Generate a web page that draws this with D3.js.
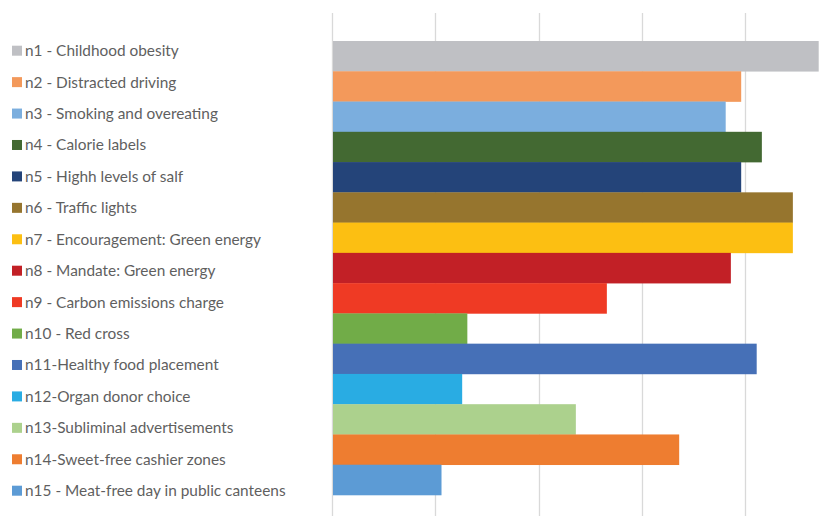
<!DOCTYPE html>
<html>
<head>
<meta charset="utf-8">
<script src="https://cdn.jsdelivr.net/npm/d3@7"></script>
<style>
  html, body { margin: 0; padding: 0; background: #fff; overflow: hidden; }
</style>
</head>
<body>
<svg id="chart" width="840" height="516"></svg>
<script>
// series names (one bar per series)
const names = [
  'n1 - Childhood obesity',
  'n2 - Distracted driving',
  'n3 - Smoking and overeating',
  'n4 - Calorie labels',
  'n5 - Highh levels of salf',
  'n6 - Traffic lights',
  'n7 - Encouragement: Green energy',
  'n8 - Mandate: Green energy',
  'n9 - Carbon emissions charge',
  'n10 - Red cross',
  'n11-Healthy food placement',
  'n12-Organ donor choice',
  'n13-Subliminal advertisements',
  'n14-Sweet-free cashier zones',
  'n15 - Meat-free day in public canteens'
];
const values = [4.70, 3.95, 3.80, 4.15, 3.95, 4.45, 4.45, 3.85, 2.65, 1.30, 4.10, 1.25, 2.35, 3.35, 1.05];
const colors = [
  '#bfc0c4', '#f3995b', '#7baede', '#436932', '#244479',
  '#96752e', '#fcbf12', '#c22026', '#ef3a24', '#71ac48',
  '#4670b7', '#29ace3', '#acd18d', '#ee7d30', '#5c9bd5'
];
const xTicks = [0, 1, 2, 3, 4, 5];

const textColor = '#5f5f5f';
const gridColor = '#d9d9d9';

const svg = d3.select('#chart');
const data = names.map((n, i) => ({ name: n, value: values[i], color: colors[i] }));

// plot area runs past the window (chart is cropped on right/bottom)
const plotTop = 13, plotBottom = 523;
const x = d3.scaleLinear().domain([0, 5]).range([333, 849.7]);
// category band with gap above/below the bar cluster
const cat = d3.scaleBand().domain(['all']).range([plotTop, plotBottom]).paddingOuter(0.0617);
const y = d3.scaleBand().domain(names).range([cat('all'), cat('all') + cat.bandwidth()]);

// gridlines
svg.append('g')
  .selectAll('line')
  .data(xTicks)
  .enter()
  .append('line')
  .attr('x1', d => Math.round(x(d)) - 0.5)
  .attr('x2', d => Math.round(x(d)) - 0.5)
  .attr('y1', plotTop)
  .attr('y2', plotBottom)
  .attr('stroke', gridColor)
  .attr('stroke-width', 1.3);

// bars
svg.append('g')
  .selectAll('rect')
  .data(data)
  .enter()
  .append('rect')
  .attr('x', x(0))
  .attr('y', d => y(d.name))
  .attr('width', d => x(d.value) - x(0))
  .attr('height', y.bandwidth() + 0.3)
  .attr('fill', d => d.color);

// legend
const ly = d3.scalePoint().domain(names).range([50.7, 490.7]);
const legend = svg.append('g')
  .selectAll('g')
  .data(data)
  .enter()
  .append('g')
  .attr('transform', d => `translate(0,${ly(d.name)})`);
legend.append('rect')
  .attr('x', 12)
  .attr('y', -5)
  .attr('width', 10)
  .attr('height', 10)
  .attr('fill', d => d.color);
legend.append('text')
  .attr('x', 25)
  .attr('y', 0)
  .attr('dy', '0.35em')
  .attr('font-family', 'Lato, "Open Sans", sans-serif')
  .attr('font-size', 15.4)
  .attr('fill', textColor)
  .text(d => d.name);
</script>
</body>
</html>
